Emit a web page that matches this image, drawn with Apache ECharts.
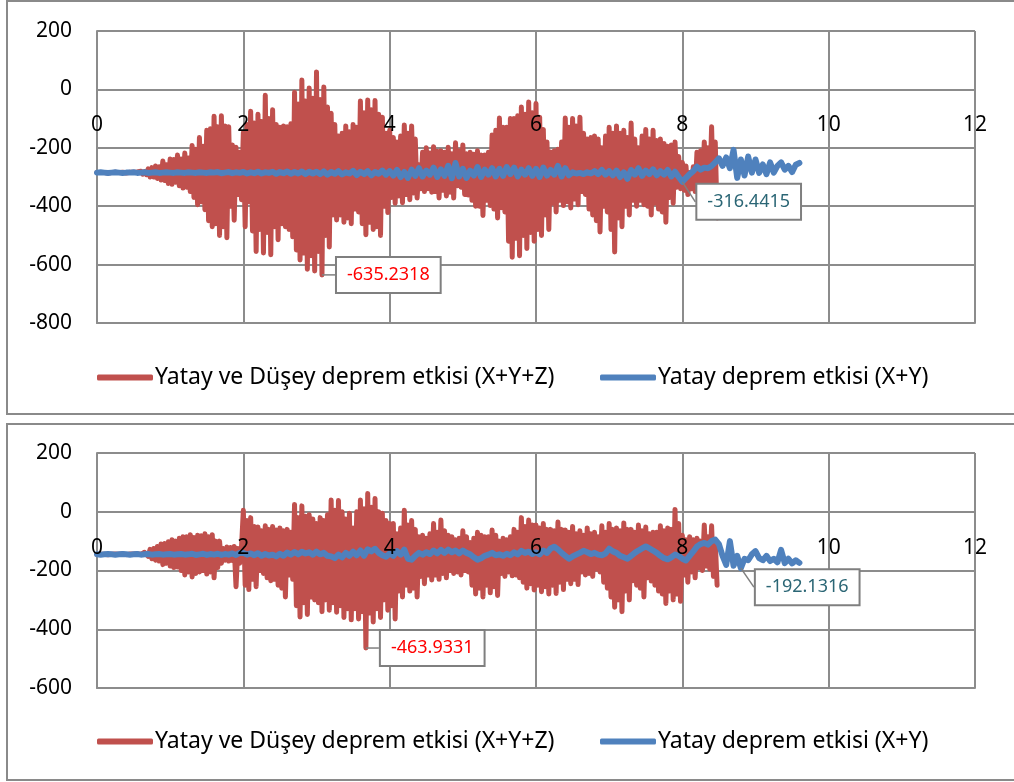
<!DOCTYPE html>
<html style="height: 100%">
<head>
<meta charset="utf-8">
<title>Deprem etkisi</title>
<script src="https://cdn.jsdelivr.net/npm/echarts@6/dist/echarts.min.js"></script>
</head>
<body style="height: 100%; margin: 0; background: #fff">
<div id="container" style="width: 1014px; height: 782px"></div>
<script type="text/javascript">
// sampling steps of the records (s)
var dtRed = 0.025;
var dtBlue = 0.05;
var redName = 'Yatay ve Düşey deprem etkisi (X+Y+Z)';
var blueName = 'Yatay deprem etkisi (X+Y)';

// upper chart, X+Y+Z (0.025 s step)
var red1 = [
  -285,-285,-285,-285,-285,-284,-286,-284,-285,-286,-284,-286,-285,-285,-284,-284,-286,-285,-284,-285,
  -284,-287,-283,-286,-280,-290,-282,-292,-272,-300,-268,-300,-262,-305,-265,-310,-245,-312,-258,-322,
  -238,-325,-240,-318,-225,-330,-238,-338,-218,-335,-235,-350,-192,-370,-205,-395,-165,-385,-195,-412,
  -140,-450,-135,-470,-92,-460,-128,-500,-90,-470,-125,-508,-128,-400,-190,-448,-198,-360,-215,-378,
  -148,-470,-120,-385,-75,-485,-115,-555,-85,-480,-110,-560,-20,-490,-100,-566,-70,-470,-120,-515,
  -130,-460,-125,-470,-128,-480,-118,-505,-10,-550,-50,-584,32,-560,-40,-616,5,-570,-30,-622,
  60,-555,-35,-635.2318,8,-500,-60,-540,-82,-430,-120,-447,-160,-430,-150,-455,-125,-440,-145,-460,
  -120,-410,-130,-420,-40,-460,-80,-498,-36,-455,-70,-480,-38,-470,-85,-500,-95,-400,-150,-422,
  -140,-370,-165,-390,-180,-365,-160,-388,-122,-360,-150,-378,-125,-355,-170,-372,-258,-340,-215,-350,
  -200,-340,-218,-352,-196,-350,-212,-372,-210,-345,-215,-365,-198,-352,-220,-372,-183,-330,-210,-335,
  -190,-360,-220,-362,-215,-380,-222,-400,-210,-400,-225,-432,-225,-380,-215,-398,-156,-410,-140,-440,
  -98,-405,-130,-420,-130,-520,-100,-575,-100,-510,-90,-570,-60,-500,-85,-545,-43,-490,-80,-520,
  -48,-480,-95,-500,-137,-430,-180,-480,-214,-390,-210,-420,-205,-380,-180,-398,-98,-385,-130,-406,
  -100,-375,-125,-395,-95,-350,-150,-360,-170,-410,-165,-430,-160,-450,-170,-488,-200,-400,-160,-420,
  -130,-480,-150,-557,-125,-440,-150,-470,-140,-400,-165,-430,-115,-380,-170,-400,-200,-380,-160,-395,
  -137,-400,-170,-430,-140,-390,-175,-410,-170,-420,-185,-455,-195,-370,-190,-390,-180,-335,-230,-340,
  -250,-345,-262,-360,-285,-340,-265,-350,-215,-335,-210,-340,-180,-340,-200,-345,-128,-380,-180,-440
];
// upper chart, X+Y (0.05 s step)
var blue1 = [
  -285,-284,-285,-286,-285,-284,-285,-286,-285,-285,-284,-286,-285,-284,-286,-285,-284,-286,-285,-284,
  -285,-286,-284,-285,-286,-284,-285,-286,-284,-285,-286,-284,-285,-283,-287,-285,-283,-287,-284,-286,
  -283,-288,-284,-287,-282,-288,-284,-286,-282,-289,-283,-287,-281,-289,-283,-288,-281,-290,-282,-288,
  -282,-290,-281,-292,-283,-289,-280,-291,-284,-288,-279,-293,-282,-290,-280,-294,-283,-289,-278,-292,
  -280,-295,-276,-300,-283,-303,-275,-296,-270,-298,-278,-292,-268,-300,-274,-296,-262,-304,-252,-298,
  -272,-303,-278,-295,-266,-300,-275,-292,-270,-298,-272,-296,-266,-290,-268,-298,-275,-292,-270,-296,
  -272,-300,-268,-295,-276,-292,-262,-298,-270,-294,-284,-288,-286,-290,-284,-288,-280,-290,-276,-292,
  -280,-294,-278,-300,-284,-306,-276,-292,-270,-296,-278,-290,-274,-294,-280,-292,-276,-298,-282,-300,
  -316.4415,-303,-290,-280,-265,-275,-268,-270,-262,-250,-236,-262,-233,-270,-207,-303,-240,-295,-230,-285,
  -240,-286,-257,-290,-250,-285,-262,-250,-275,-262,-283,-258,-252
];

// lower chart, X+Y+Z (0.025 s step)
var red2 = [
  -145,-145,-145,-145,-145,-144,-146,-144,-145,-146,-144,-146,-145,-145,-144,-144,-146,-145,-144,-145,
  -144,-146,-143,-146,-145,-150,-138,-140,-152,-128,-160,-125,-165,-118,-168,-110,-180,-108,-175,-102,
  -185,-95,-190,-100,-188,-90,-200,-85,-215,-85,-205,-78,-222,-88,-210,-80,-205,-82,-200,-75,
  -212,-85,-205,-78,-225,-100,-190,-100,-175,-125,-165,-120,-168,-122,-166,-118,-255,-125,-175,-120,
  5,-250,-30,-265,-20,-230,-50,-255,-52,-200,-65,-210,-48,-225,-60,-235,-50,-230,-62,-250,
  -55,-260,-65,-290,-60,-215,-70,-230,25,-320,-20,-358,20,-310,-15,-350,-10,-290,-25,-300,
  -40,-310,-20,-340,-30,-300,-10,-335,40,-310,5,-342,38,-320,0,-360,-25,-330,-5,-368,
  -55,-330,0,-365,40,-340,10,-463.9331,62,-345,15,-375,45,-330,0,-360,-5,-300,-30,-335,
  -40,-320,-40,-365,-75,-270,-55,-290,5,-250,-45,-270,-30,-260,-60,-290,-85,-220,-80,-245,
  -90,-215,-75,-232,-40,-215,-70,-230,-28,-210,-65,-225,-80,-200,-85,-210,-95,-205,-90,-215,
  -65,-200,-85,-205,-105,-250,-90,-280,-70,-260,-80,-290,-85,-250,-85,-276,-62,-255,-80,-285,
  -100,-210,-90,-220,-95,-205,-85,-218,-60,-215,-70,-225,-20,-240,-50,-260,-28,-245,-45,-266,
  -45,-250,-55,-272,-40,-255,-60,-280,-60,-250,-65,-278,-35,-240,-60,-265,-62,-230,-70,-245,
  -50,-230,-75,-248,-65,-205,-80,-215,-55,-210,-75,-220,-70,-195,-85,-205,-48,-240,-70,-260,
  -40,-290,-60,-325,-55,-300,-65,-340,-38,-270,-60,-300,-60,-235,-70,-250,-45,-260,-65,-290,
  -52,-225,-75,-236,-70,-250,-70,-270,-48,-280,-65,-312,-55,-270,-60,-300,8,-280,-40,-305,
  -80,-215,-95,-240,-85,-205,-95,-225,-90,-190,-100,-200,-45,-185,-85,-195,-48,-220,-100,-250
];
// lower chart, X+Y (0.05 s step)
var blue2 = [
  -145,-146,-145,-144,-145,-146,-145,-144,-145,-146,-145,-144,-146,-145,-144,-146,-145,-144,-146,-145,
  -144,-146,-145,-144,-146,-145,-143,-147,-145,-143,-147,-144,-146,-143,-147,-144,-146,-142,-147,-140,
  -140,-146,-142,-148,-141,-150,-144,-149,-146,-152,-143,-150,-139,-146,-137,-145,-136,-142,-138,-146,
  -136,-145,-140,-150,-152,-158,-146,-155,-140,-150,-136,-148,-132,-150,-128,-135,-126,-140,-148,-153,
  -142,-150,-134,-146,-129,-160,-163,-150,-140,-146,-138,-144,-132,-142,-130,-140,-129,-138,-132,-142,
  -132,-140,-145,-155,-163,-158,-150,-146,-140,-148,-145,-150,-143,-148,-138,-145,-133,-140,-136,-144,
  -138,-145,-132,-140,-125,-119,-128,-140,-150,-160,-152,-146,-140,-133,-138,-144,-140,-146,-148,-142,
  -126,-135,-140,-150,-155,-160,-150,-140,-132,-125,-118,-125,-132,-140,-150,-158,-162,-155,-146,-150,
  -160,-166,-150,-135,-118,-110,-106,-112,-100,-95,-110,-150,-181,-100,-184,-150,-192.1316,-160,-165,-145,
  -134,-158,-165,-150,-168,-160,-172,-130,-175,-160,-176,-165,-174
];

var FONT = 'Noto Sans';
var gridColor = '#8c8c8c';

function toXY(vals, dt, labelIdx, color) {
  return vals.map(function (v, i) {
    var p = [+(i * dt).toFixed(3), v];
    if (i !== labelIdx) return p;
    return {
      value: p,
      label: {
        show: true,
        position: 'right',
        distance: 4,
        formatter: function (prm) { return String(prm.value[1]); },
        color: color,
        fontFamily: FONT,
        fontSize: 18,
        lineHeight: 20,
        backgroundColor: '#fff',
        borderColor: '#7f7f7f',
        borderWidth: 2,
        padding: [7, 10]
      }
    };
  });
}

// grid axis: lines only, under the series
function xAx(gi) {
  return {
    type: 'value', gridIndex: gi, position: 'bottom', min: 0, max: 12, interval: 2,
    axisLine: { show: true, onZero: false, lineStyle: { color: gridColor, width: 2 } },
    axisTick: { show: false },
    axisLabel: { show: false },
    splitLine: { show: true, lineStyle: { color: gridColor, width: 2 } }
  };
}
// label axis: x labels drawn over the series, just under the zero line
function xLab(gi, labelMargin) {
  return {
    type: 'value', gridIndex: gi, position: 'bottom', offset: 0,
    min: 0, max: 12, interval: 2, z: 10,
    axisLine: { show: false, onZero: false },
    axisTick: { show: false },
    axisLabel: { margin: labelMargin, fontSize: 21, color: '#000', fontFamily: FONT },
    splitLine: { show: false }
  };
}

function yAx(gi, min) {
  return {
    type: 'value', gridIndex: gi, min: min, max: 200, interval: 200,
    axisLine: { show: true, onZero: false, lineStyle: { color: gridColor, width: 2 } },
    axisTick: { show: false },
    axisLabel: { margin: 25, fontSize: 21, color: '#000', fontFamily: FONT },
    splitLine: { show: true, lineStyle: { color: gridColor, width: 2 } }
  };
}

function lineSeries(name, gi, vals, dt, labelIdx, color, width, labelColor, dy) {
  return {
    name: name, type: 'line', xAxisIndex: gi, yAxisIndex: gi,
    data: toXY(vals, dt, labelIdx, labelColor),
    symbol: 'circle', symbolSize: 0, showSymbol: true, showAllSymbol: true,
    lineStyle: { color: color, width: width, join: 'round', cap: 'round' },
    itemStyle: { color: color },
    labelLayout: { dx: 11, dy: dy },
    labelLine: { show: true, lineStyle: { color: '#7f7f7f', width: 1.5 } },
    emphasis: { disabled: true },
    silent: true
  };
}

function legend(name, left, top) {
  return {
    data: [name], left: left, top: top, padding: 0, selectedMode: false,
    icon: 'roundRect', itemWidth: 56, itemHeight: 6,
    textStyle: { fontSize: 23, color: '#000', fontFamily: FONT, padding: [0, 0, 0, -3] }
  };
}

var myChart = echarts.init(document.getElementById('container'));

var option = {
  animation: false,
  color: ['#C0504D', '#4F81BD'],
  graphic: [
    { type: 'rect', silent: true, z: -10, shape: { x: 7, y: 1, width: 1020, height: 413 },
      style: { fill: 'none', stroke: '#8a8a8a', lineWidth: 2 } },
    { type: 'rect', silent: true, z: -10, shape: { x: 7, y: 424, width: 1020, height: 356 },
      style: { fill: 'none', stroke: '#8a8a8a', lineWidth: 2 } }
  ],
  grid: [
    { left: 97, top: 31, width: 878, height: 292 },
    { left: 97, top: 453, width: 878, height: 235 }
  ],
  xAxis: [xAx(0), xAx(1), xLab(0, -208), xLab(1, -150)],
  yAxis: [yAx(0, -800), yAx(1, -600)],
  legend: [
    legend(redName, 97, 366),
    legend(blueName, 600, 366),
    legend(redName, 97, 730),
    legend(blueName, 600, 730)
  ],
  series: [
    lineSeries(redName, 0, red1, dtRed, 123, '#C0504D', 5, '#ff0000', 0),
    lineSeries(blueName, 0, blue1, dtBlue, 160, '#4F81BD', 6, '#2b6675', 20),
    lineSeries(redName, 1, red2, dtRed, 147, '#C0504D', 5, '#ff0000', 0),
    lineSeries(blueName, 1, blue2, dtBlue, 176, '#4F81BD', 6, '#2b6675', 19)
  ]
};

myChart.setOption(option);
</script>
</body>
</html>
